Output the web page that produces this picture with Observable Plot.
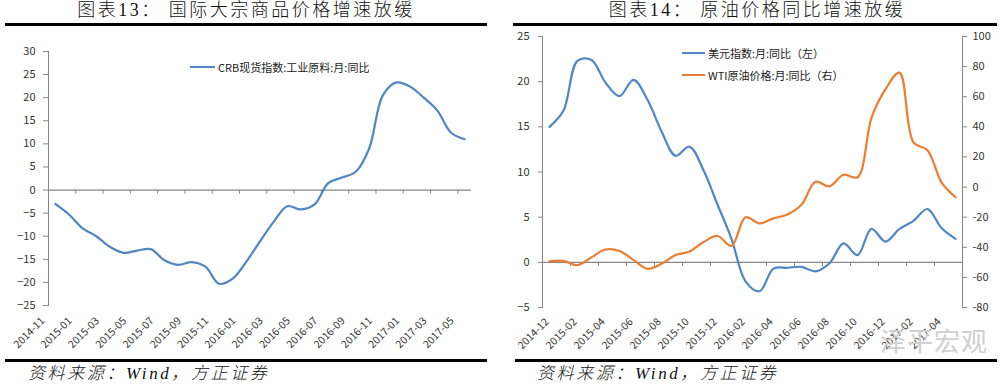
<!DOCTYPE html>
<html><head><meta charset="utf-8">
<script src="https://cdn.jsdelivr.net/npm/d3@7"></script>
<script src="https://cdn.jsdelivr.net/npm/@observablehq/plot@0.6"></script>
<style>
html,body{margin:0;padding:0;background:#fff;}
body{width:1006px;height:385px;overflow:hidden;position:relative;font-family:"Noto Sans CJK SC","Noto Sans",sans-serif;}
.abs{position:absolute;}
.title{font-family:"Liberation Serif","Noto Sans CJK SC",serif;font-size:18px;letter-spacing:2.5px;color:#111;white-space:nowrap;transform:translateX(-50%);line-height:20px;font-weight:300;}
.rule{background:#000;height:3px;}
.cap{font-family:"Liberation Serif","Noto Sans CJK SC",serif;font-style:italic;font-size:17px;color:#111;white-space:nowrap;line-height:18px;letter-spacing:2.6px;font-weight:300;}
.leg{font-size:11px;color:#222;white-space:nowrap;line-height:14px;}
.legline{height:0;border-top:2px solid;}
.plot{position:absolute;}
.wm{font-size:26px;color:#cfcfcf;white-space:nowrap;letter-spacing:1px;line-height:28px;}
</style>
</head><body>
<script>
// ---------- data: chart 13 ----------
const crbMonths = ["2014-11","2014-12","2015-01","2015-02","2015-03","2015-04","2015-05","2015-06","2015-07","2015-08","2015-09","2015-10","2015-11","2015-12","2016-01","2016-02","2016-03","2016-04","2016-05","2016-06","2016-07","2016-08","2016-09","2016-10","2016-11","2016-12","2017-01","2017-02","2017-03","2017-04","2017-05"];
const crbValues = [-3.0,-5.3,-8.3,-10.0,-12.3,-13.6,-13.1,-12.8,-15.2,-16.2,-15.6,-16.6,-20.3,-19.2,-15.5,-11.1,-6.9,-3.5,-4.2,-3.1,1.5,2.7,3.9,9.0,20.5,23.3,22.4,20.0,17.2,12.4,11.0];
const crbYTicks = [-25,-20,-15,-10,-5,0,5,10,15,20,25,30];
const crbXLabels = ["2014-11","2015-01","2015-03","2015-05","2015-07","2015-09","2015-11","2016-01","2016-03","2016-05","2016-07","2016-09","2016-11","2017-01","2017-03","2017-05"];

// ---------- data: chart 14 ----------
const oilMonths = ["2014-12","2015-01","2015-02","2015-03","2015-04","2015-05","2015-06","2015-07","2015-08","2015-09","2015-10","2015-11","2015-12","2016-01","2016-02","2016-03","2016-04","2016-05","2016-06","2016-07","2016-08","2016-09","2016-10","2016-11","2016-12","2017-01","2017-02","2017-03","2017-04","2017-05"];
const usdValues = [15.0,16.8,22.3,22.4,19.9,18.4,20.2,18.0,14.5,11.8,12.8,10.2,6.4,2.6,-2.1,-3.2,-0.7,-0.6,-0.5,-1.0,-0.1,2.1,0.8,3.7,2.3,3.7,4.6,5.9,3.8,2.6];
const wtiValues = [-49.4,-49.0,-51.8,-46.7,-41.5,-42.5,-48.4,-54.3,-51.0,-45.2,-42.8,-36.5,-32.5,-39.0,-20.1,-24.1,-20.8,-18.2,-11.8,3.5,0.5,8.2,6.5,46.0,65.0,76.0,29.7,24.5,3.1,-6.8];
const oilLeftTicks = [-5,0,5,10,15,20,25];
const oilRightTicks = [-80,-60,-40,-20,0,20,40,60,80,100];
const oilXLabels = ["2014-12","2015-02","2015-04","2015-06","2015-08","2015-10","2015-12","2016-02","2016-04","2016-06","2016-08","2016-10","2016-12","2017-02","2017-04"];

const blue = "#4f86c6", orange = "#ed7d31", axisGray = "#868686", textCol = "#333";
const font = '"Noto Sans CJK SC","Noto Sans",sans-serif';

function el(tag, cls, style, text) {
  const e = document.createElement(tag);
  if (cls) e.className = cls;
  Object.assign(e.style, style);
  if (text != null) e.textContent = text;
  document.body.appendChild(e);
  return e;
}

// ---------- chart 13 ----------
const crbBounds = d3.range(2, crbMonths.length, 2);
const left = Plot.plot({
  width: 490, height: 332,
  marginLeft: 48, marginRight: 19, marginTop: 31, marginBottom: 47,
  style: {fontFamily: font, fontSize: "10.5px", color: textCol, background: "transparent"},
  x: {domain: [0, crbMonths.length], axis: null},
  y: {domain: [-25, 30]},
  marks: [
    Plot.frame({anchor: "left", stroke: axisGray}),
    Plot.axisY({ticks: crbYTicks, tickSize: 5, tickPadding: 8, stroke: axisGray, fill: textCol, fontSize: 11}),
    Plot.ruleY([0], {stroke: axisGray, strokeWidth: 1.2}),
    Plot.ruleX(crbBounds, {x: d => d, y1: 0, y2: -0.9, stroke: axisGray}),
    Plot.text(crbXLabels, {x: d => crbMonths.indexOf(d) + 0.5, frameAnchor: "bottom", text: d => d, rotate: -45, textAnchor: "end", dx: -10, dy: 16, fontSize: 10.5, fill: textCol}),
    Plot.line(crbValues, {x: (d, i) => i + 0.5, y: d => d, curve: "catmull-rom", stroke: blue, strokeWidth: 2.2})
  ]
});
left.classList.add("plot");
Object.assign(left.style, {left: "0px", top: "20px"});
document.body.appendChild(left);

// ---------- chart 14 ----------
const toLeft = d3.scaleLinear([-80, 100], [-5, 25]);
const oilBounds = d3.range(2, oilMonths.length, 2);
const right = Plot.plot({
  width: 501, height: 332,
  marginLeft: 37, marginRight: 44, marginTop: 16, marginBottom: 45,
  style: {fontFamily: font, fontSize: "10.5px", color: textCol, background: "transparent"},
  x: {domain: [0, oilMonths.length], axis: null},
  y: {domain: [-5, 25]},
  marks: [
    Plot.frame({anchor: "left", stroke: axisGray}),
    Plot.frame({anchor: "right", stroke: axisGray}),
    Plot.axisY({ticks: oilLeftTicks, tickSize: 4, tickPadding: 9, stroke: axisGray, fill: textCol, fontSize: 11}),
    Plot.axisY({anchor: "right", ticks: oilRightTicks.map(toLeft), tickFormat: d => Math.round(toLeft.invert(d)), tickSize: 4, tickPadding: 6, stroke: axisGray, fill: textCol, fontSize: 11}),
    Plot.ruleY([0], {stroke: axisGray, strokeWidth: 1.2}),
    Plot.ruleX(oilBounds, {x: d => d, y1: 0, y2: -0.45, stroke: axisGray}),
    Plot.text(oilXLabels, {x: d => oilMonths.indexOf(d) + 0.5, frameAnchor: "bottom", text: d => d, rotate: -45, textAnchor: "end", dx: 0, dy: 15, fontSize: 10.5, fill: textCol}),
    Plot.line(usdValues, {x: (d, i) => i + 0.5, y: d => d, curve: "catmull-rom", stroke: blue, strokeWidth: 2.2}),
    Plot.line(wtiValues, {x: (d, i) => i + 0.5, y: d => toLeft(d), curve: "catmull-rom", stroke: orange, strokeWidth: 2.2})
  ]
});
right.classList.add("plot");
Object.assign(right.style, {left: "505px", top: "20px"});
document.body.appendChild(right);

// ---------- titles, rules, legends, captions ----------
el("div", "abs title", {left: "246px", top: "0px"}, "图表13：  国际大宗商品价格增速放缓");
el("div", "abs title", {left: "757px", top: "0px"}, "图表14：  原油价格同比增速放缓");
el("div", "abs rule", {left: "5px", top: "23px", width: "482px"});
el("div", "abs rule", {left: "513px", top: "23px", width: "484px"});
el("div", "abs rule", {left: "5px", top: "359px", width: "482px"});
el("div", "abs rule", {left: "515px", top: "359px", width: "482px"});

el("div", "abs legline", {left: "190px", top: "66px", width: "25px", borderColor: blue});
el("div", "abs leg", {left: "218px", top: "60px"}, "CRB现货指数:工业原料:月:同比");
el("div", "abs legline", {left: "682px", top: "52px", width: "23px", borderColor: blue});
el("div", "abs leg", {left: "708px", top: "46px"}, "美元指数:月:同比（左）");
el("div", "abs legline", {left: "682px", top: "74px", width: "23px", borderColor: orange});
el("div", "abs leg", {left: "708px", top: "68px"}, "WTI原油价格:月:同比（右）");

el("div", "abs cap", {left: "28px", top: "365px"}, "资料来源：Wind，方正证券");
el("div", "abs cap", {left: "537px", top: "365px"}, "资料来源：Wind，方正证券");
el("div", "abs wm", {left: "880px", top: "326px"}, "泽平宏观");
</script>
</body></html>
